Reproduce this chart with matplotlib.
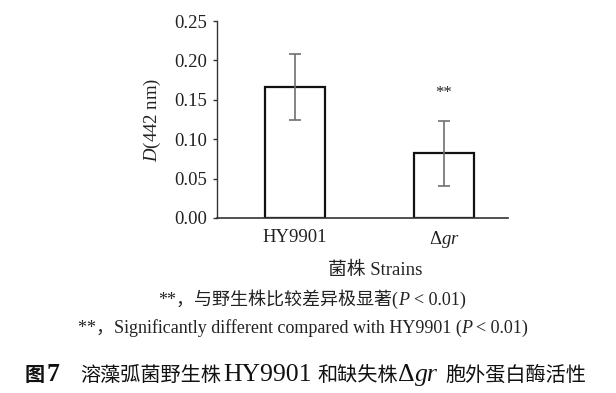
import numpy as np
import matplotlib
matplotlib.use('Agg')
import matplotlib.pyplot as plt

plt.rcParams['font.family'] = ['Liberation Serif', 'Noto Sans CJK SC']
plt.rcParams['mathtext.fontset'] = 'custom'
plt.rcParams['mathtext.rm'] = 'Liberation Serif'
plt.rcParams['mathtext.it'] = 'Liberation Serif:italic'
plt.rcParams['mathtext.bf'] = 'Liberation Serif:bold'

# data
strains = ['HY9901', r'Δ$gr$']
values = [0.166, 0.082]
errors = [0.042, 0.041]
yticks = [0.00, 0.05, 0.10, 0.15, 0.20, 0.25]

W, H = 616, 393
fig = plt.figure(figsize=(W / 100, H / 100), dpi=100)
ax = fig.add_axes([217/W, 1 - 218/H, (508 - 217)/W, (218 - 21)/H])

x = np.arange(len(strains))
ax.bar(x, values, width=0.4, color='white', edgecolor='#111111', linewidth=1.6, zorder=2)
ax.errorbar(x, values, yerr=errors, fmt='none', ecolor='#6f6f6f', elinewidth=1.2,
            capsize=4, capthick=1.2, zorder=3)
ax.text(1, 0.158, '**', ha='center', va='center', fontsize=12, color='#222222')

ax.set_xlim(-0.523, 1.43)
ax.set_ylim(0, 0.25)
ax.set_yticks(yticks)
ax.set_yticklabels(['%.2f' % t for t in yticks], fontsize=13.5, color='#222222')
ax.set_xticks(x)
ax.set_xticklabels(strains, fontsize=13.5, color='#222222')
ax.tick_params(axis='x', length=0, pad=8)
ax.tick_params(axis='y', length=3, width=1, color='#333333', pad=4)
for s in ['top', 'right']:
    ax.spines[s].set_visible(False)
ax.spines['left'].set_color('#333333')
ax.spines['bottom'].set_color('#333333')
ax.spines['left'].set_linewidth(1.0)
ax.spines['bottom'].set_linewidth(1.2)
ax.set_ylabel('$D$(442 nm)', fontsize=13.5, color='#222222', labelpad=8)

renderer = fig.canvas.get_renderer()


# draw a line of text made of pieces with different styles, on one baseline
def rich_line(x0, y, pieces, center=True, color='#222222'):
    items = []
    total = 0
    for s, style, gap in pieces:
        t = fig.text(0, 1 - y / H, s, va='baseline', ha='left', color=color, **style)
        w = t.get_window_extent(renderer).width
        items.append((t, w, gap))
        total += w + gap
    xs = x0 - total / 2 if center else x0
    for t, w, gap in items:
        t.set_x(xs / W)
        xs += w + gap


fig.text(375/W, 1 - 270/H, '菌株 Strains', ha='center', va='center', fontsize=13.5, color='#222222')
n = {'fontsize': 13}
ni = {'fontsize': 13, 'fontstyle': 'italic'}
rich_line(312, 305, [('**，与野生株比较差异极显著(', n, 0), ('P', ni, 4), ('< 0.01)', n, 0)])
rich_line(303, 333, [('**，Significantly different compared with HY9901 (', n, 0),
                     ('P', ni, 4), ('< 0.01)', n, 0)])

cj = {'fontsize': 14.5}
la = {'fontsize': 18.5}
lai = {'fontsize': 18.5, 'fontstyle': 'italic'}
rich_line(25, 381, [('图', {'fontsize': 14.5, 'fontweight': 'bold'}, 1),
                    ('7', {'fontsize': 18.5, 'fontweight': 'bold'}, 0)],
          center=False, color='#111111')
rich_line(80, 381, [('溶藻弧菌野生株', cj, 2), ('HY9901', la, 6), ('和缺失株', cj, 0),
                    ('Δ', la, 0), ('gr', lai, 8), ('胞外蛋白酶活性', cj, 0)],
          center=False, color='#111111')

fig.savefig('out.png', dpi=100)
